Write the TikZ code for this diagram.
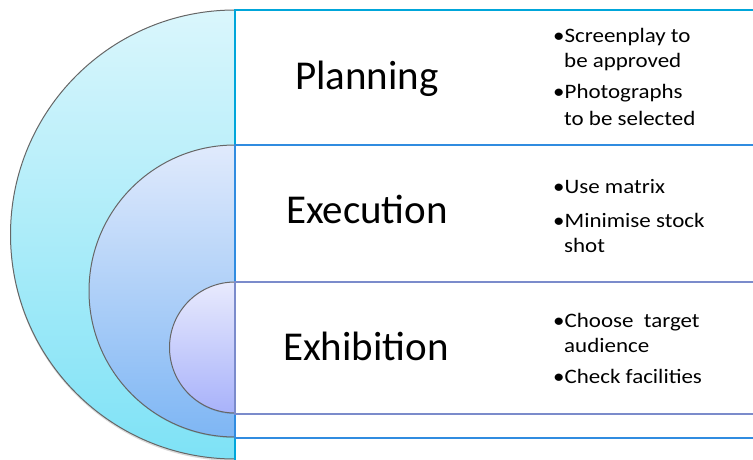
\documentclass[tikz,border=0pt]{standalone}
\usepackage{fontspec}
\setmainfont{Carlito}
\newcommand{\wb}[1]{\scalebox{1.12}[1]{#1}}
\begin{document}
\begin{tikzpicture}[x=1pt,y=1pt,
  title/.style={font=\fontsize{41}{49}\selectfont, anchor=base, inner sep=0pt},
  bul/.style={font=\fontsize{20.5}{25}\selectfont, anchor=base west, inner sep=0pt},
  ring/.style={draw=black!60, line width=1pt},
  frameA/.style={draw={rgb,255:red,0;green,166;blue,218}, line width=2.6pt},
  frameB/.style={draw={rgb,255:red,48;green,140;blue,224}, line width=2.6pt},
  frameC/.style={draw={rgb,255:red,123;green,139;blue,203}, line width=2.6pt},
  shd/.style={fill=black, opacity=0.15}]
\definecolor{oTop}{RGB}{218,246,252}
\definecolor{oBot}{RGB}{126,226,246}
\definecolor{mTop}{RGB}{224,234,252}
\definecolor{mBot}{RGB}{126,182,244}
\definecolor{iTop}{RGB}{232,234,253}
\definecolor{iBot}{RGB}{168,178,250}
\useasboundingbox (0,0) rectangle (753,459);
\clip (0,0) rectangle (753,459);
% outer half disc
\fill[shd] (235,447) arc[start angle=90,end angle=270,radius=224.5] -- cycle;
\shade[top color=oTop,bottom color=oBot] (235,449) arc[start angle=90,end angle=270,radius=224.5] -- cycle;
\draw[ring] (235,449) arc[start angle=90,end angle=270,radius=224.5];
\draw[frameA] (770,449) -- (235,449) -- (235,-10);
% middle half disc
\fill[shd] (235,311) arc[start angle=90,end angle=270,radius=145] -- cycle;
\shade[top color=mTop,bottom color=mBot] (235,314) arc[start angle=90,end angle=270,radius=146] -- cycle;
\draw[ring] (235,314) arc[start angle=90,end angle=270,radius=146];
\draw[frameB] (770,314) -- (235,314) -- (235,21) -- (770,21);
% inner half disc
\fill[shd] (235,175) arc[start angle=90,end angle=270,radius=65] -- cycle;
\shade[top color=iTop,bottom color=iBot] (235,177) arc[start angle=90,end angle=270,radius=65.5] -- cycle;
\draw[ring] (235,177) arc[start angle=90,end angle=270,radius=65.5];
\draw[frameC] (770,177) -- (235,177) -- (235,45) -- (770,45);
% titles
\node[title] (planning) at (367,369) {Planning};
\node[title] (execution) at (367,236) {Execution};
\node[title] (exhibition) at (366,99) {Exhibition};
% bullets
\node[bul] (p1a) at (553,416) {\wb{•Screenplay to}};
\node[bul] (p1b) at (564,391) {\wb{be approved}};
\node[bul] (p2a) at (553,360) {\wb{•Photographs}};
\node[bul] (p2b) at (564,334) {\wb{to be selected}};
\node[bul] (e1a) at (553,266) {\wb{•Use matrix}};
\node[bul] (e2a) at (553,232) {\wb{•Minimise stock}};
\node[bul] (e2b) at (564,207) {\wb{shot}};
\node[bul] (x1a) at (553,132) {\wb{•Choose \ target}};
\node[bul] (x1b) at (564,107) {\wb{audience}};
\node[bul] (x2a) at (553,76) {\wb{•Check facilities}};
\end{tikzpicture}
\end{document}
